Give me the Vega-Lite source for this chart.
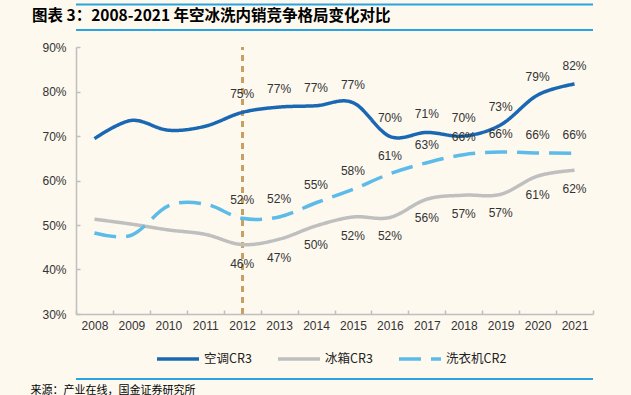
{
  "$schema": "https://vega.github.io/schema/vega-lite/v6.json",
  "autosize": "none",
  "width": 517,
  "height": 267,
  "padding": {"left": 76, "top": 47, "right": 38, "bottom": 81},
  "background": "#fdf9ef",
  "config": {
    "view": {"stroke": null},
    "font": "Liberation Sans",
    "axis": {"labelFont": "Liberation Sans", "labelFontSize": 12, "labelColor": "#333333", "domainColor": "#bfbfbf", "tickColor": "#bfbfbf", "domainWidth": 1.5, "tickWidth": 1.5, "grid": false}
  },
  "data": {
    "values": [
      {"year": "2008", "series": "空调CR3", "value": 0.694, "label": ""},
      {"year": "2009", "series": "空调CR3", "value": 0.735, "label": ""},
      {"year": "2010", "series": "空调CR3", "value": 0.713, "label": ""},
      {"year": "2011", "series": "空调CR3", "value": 0.722, "label": ""},
      {"year": "2012", "series": "空调CR3", "value": 0.753, "label": "75%"},
      {"year": "2013", "series": "空调CR3", "value": 0.765, "label": "77%"},
      {"year": "2014", "series": "空调CR3", "value": 0.768, "label": "77%"},
      {"year": "2015", "series": "空调CR3", "value": 0.775, "label": "77%"},
      {"year": "2016", "series": "空调CR3", "value": 0.699, "label": "70%"},
      {"year": "2017", "series": "空调CR3", "value": 0.708, "label": "71%"},
      {"year": "2018", "series": "空调CR3", "value": 0.700, "label": "70%"},
      {"year": "2019", "series": "空调CR3", "value": 0.725, "label": "73%"},
      {"year": "2020", "series": "空调CR3", "value": 0.792, "label": "79%"},
      {"year": "2021", "series": "空调CR3", "value": 0.817, "label": "82%"},
      {"year": "2008", "series": "冰箱CR3", "value": 0.513, "label": ""},
      {"year": "2009", "series": "冰箱CR3", "value": 0.502, "label": ""},
      {"year": "2010", "series": "冰箱CR3", "value": 0.489, "label": ""},
      {"year": "2011", "series": "冰箱CR3", "value": 0.479, "label": ""},
      {"year": "2012", "series": "冰箱CR3", "value": 0.456, "label": "46%"},
      {"year": "2013", "series": "冰箱CR3", "value": 0.468, "label": "47%"},
      {"year": "2014", "series": "冰箱CR3", "value": 0.498, "label": "50%"},
      {"year": "2015", "series": "冰箱CR3", "value": 0.518, "label": "52%"},
      {"year": "2016", "series": "冰箱CR3", "value": 0.517, "label": "52%"},
      {"year": "2017", "series": "冰箱CR3", "value": 0.558, "label": "56%"},
      {"year": "2018", "series": "冰箱CR3", "value": 0.567, "label": "57%"},
      {"year": "2019", "series": "冰箱CR3", "value": 0.569, "label": "57%"},
      {"year": "2020", "series": "冰箱CR3", "value": 0.610, "label": "61%"},
      {"year": "2021", "series": "冰箱CR3", "value": 0.623, "label": "62%"},
      {"year": "2008", "series": "洗衣机CR2", "value": 0.482, "label": ""},
      {"year": "2009", "series": "洗衣机CR2", "value": 0.477, "label": ""},
      {"year": "2010", "series": "洗衣机CR2", "value": 0.543, "label": ""},
      {"year": "2011", "series": "洗衣机CR2", "value": 0.547, "label": ""},
      {"year": "2012", "series": "洗衣机CR2", "value": 0.515, "label": "52%"},
      {"year": "2013", "series": "洗衣机CR2", "value": 0.518, "label": "52%"},
      {"year": "2014", "series": "洗衣机CR2", "value": 0.550, "label": "55%"},
      {"year": "2015", "series": "洗衣机CR2", "value": 0.580, "label": "58%"},
      {"year": "2016", "series": "洗衣机CR2", "value": 0.615, "label": "61%"},
      {"year": "2017", "series": "洗衣机CR2", "value": 0.640, "label": "63%"},
      {"year": "2018", "series": "洗衣机CR2", "value": 0.658, "label": "66%"},
      {"year": "2019", "series": "洗衣机CR2", "value": 0.664, "label": "66%"},
      {"year": "2020", "series": "洗衣机CR2", "value": 0.662, "label": "66%"},
      {"year": "2021", "series": "洗衣机CR2", "value": 0.661, "label": "66%"}
    ]
  },
  "layer": [
    {
      "encoding": {
        "x": {
          "field": "year",
          "type": "ordinal",
          "scale": {"type": "band", "paddingInner": 0, "paddingOuter": 0},
          "axis": {
            "labelAngle": 0,
            "tickBand": "extent",
            "tickSize": -4,
            "labelPadding": 10,
            "title": "来源：产业在线，国金证券研究所",
            "titleX": -46,
            "titleY": 76,
            "titleAlign": "left",
            "titleAnchor": null,
            "titleBaseline": "middle",
            "titleFont": "Noto Sans CJK SC",
            "titleFontSize": 11,
            "titleFontWeight": "normal",
            "titleColor": "#000000"
          }
        },
        "y": {
          "field": "value",
          "type": "quantitative",
          "scale": {"domain": [0.3, 0.9], "nice": false, "zero": false},
          "axis": {"values": [0.3, 0.4, 0.5, 0.6, 0.7, 0.8, 0.9], "format": ".0%", "tickSize": -4, "labelPadding": 14, "title": null}
        }
      },
      "layer": [
        {
          "mark": {"type": "rule", "stroke": "#c8a064", "strokeWidth": 2, "strokeDash": [6, 5]},
          "encoding": {"x": {"datum": "2012", "type": "ordinal", "bandPosition": 0.5}, "y": {"datum": 0.3}, "y2": {"datum": 0.9}}
        },
        {
          "mark": {"type": "line", "interpolate": "cardinal", "strokeWidth": 3.5},
          "encoding": {
            "x": {"field": "year", "type": "ordinal", "bandPosition": 0.5},
            "color": {"field": "series", "type": "nominal", "scale": {"domain": ["空调CR3", "冰箱CR3", "洗衣机CR2"], "range": ["#1a68b3", "#bfbfbf", "#5dbbe9"]},
              "legend": {"title": null, "orient": "none", "legendX": 79, "legendY": 289, "direction": "horizontal", "symbolType": "stroke", "symbolSize": 1764, "symbolStrokeWidth": 3.5, "labelFont": "Noto Sans CJK SC", "labelFontSize": 12.5, "labelColor": "#222222", "labelOffset": 3, "columnPadding": 19}},
            "strokeDash": {"field": "series", "type": "nominal", "scale": {"domain": ["空调CR3", "冰箱CR3", "洗衣机CR2"], "range": [[1, 0], [1, 0], [22, 10]]},
              "legend": {"title": null, "orient": "none", "legendX": 79, "legendY": 289, "direction": "horizontal", "symbolType": "stroke", "symbolSize": 1764, "symbolStrokeWidth": 3.5, "labelFont": "Noto Sans CJK SC", "labelFontSize": 12.5, "labelColor": "#222222", "labelOffset": 3, "columnPadding": 19}}
          }
        },
        {
          "transform": [{"filter": "datum.label != '' && datum.series != '冰箱CR3'"}],
          "mark": {"type": "text", "dy": -18, "fontSize": 12, "color": "#333333", "font": "Liberation Sans"},
          "encoding": {"x": {"field": "year", "type": "ordinal", "bandPosition": 0.5}, "text": {"field": "label"}}
        },
        {
          "transform": [{"filter": "datum.label != '' && datum.series == '冰箱CR3'"}],
          "mark": {"type": "text", "dy": 19, "fontSize": 12, "color": "#333333", "font": "Liberation Sans"},
          "encoding": {"x": {"field": "year", "type": "ordinal", "bandPosition": 0.5}, "text": {"field": "label"}}
        }
      ]
    },
    {
      "data": {"values": [{}]},
      "layer": [
        {
          "mark": {"type": "rule", "stroke": "#2aa3e3", "strokeWidth": 2, "clip": false},
          "encoding": {"y": {"datum": 0.9955, "type": "quantitative"}}
        },
        {
          "mark": {"type": "rule", "stroke": "#2aa3e3", "strokeWidth": 2, "clip": false},
          "encoding": {"y": {"datum": 0.9382, "type": "quantitative"}}
        },
        {
          "mark": {"type": "rule", "stroke": "#2aa3e3", "strokeWidth": 2, "clip": false},
          "encoding": {"y": {"datum": 0.1539, "type": "quantitative"}}
        },
        {
          "mark": {"type": "text", "align": "left", "baseline": "middle", "font": "Noto Sans CJK SC", "fontSize": 15.5, "fontWeight": "bold", "color": "#000000"},
          "encoding": {
            "x": {"datum": -0.0851, "type": "quantitative", "scale": {"domain": [0, 1], "nice": false, "zero": false}, "axis": null},
            "y": {"datum": 0.9697, "type": "quantitative"},
            "text": {"value": "图表 3：2008-2021 年空冰洗内销竞争格局变化对比"}
          }
        }
      ]
    }
  ],
  "resolve": {"scale": {"x": "independent"}}
}
